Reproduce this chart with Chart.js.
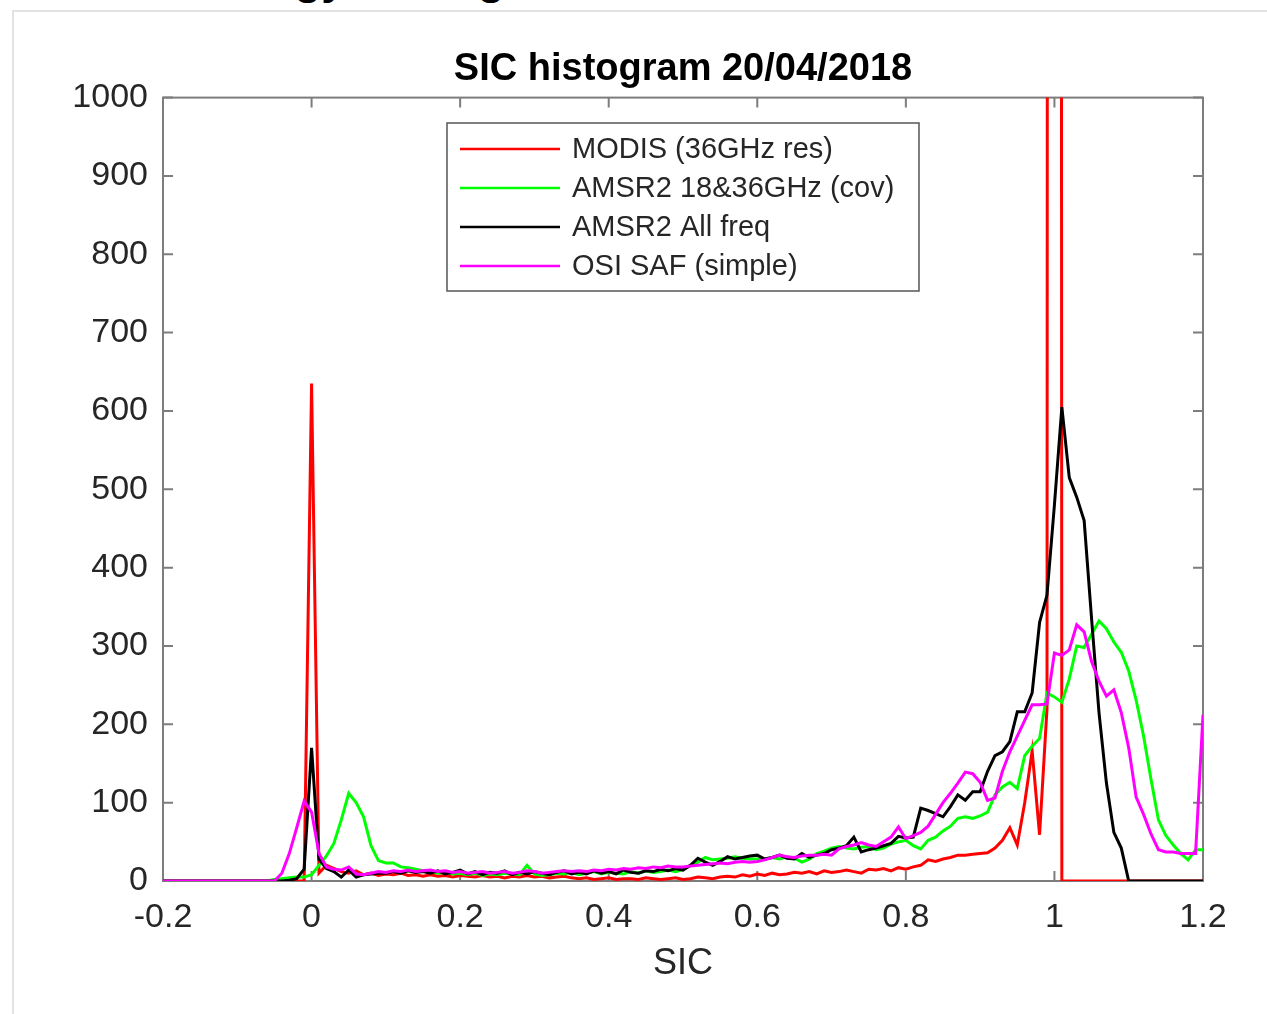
<!DOCTYPE html>
<html><head><meta charset="utf-8">
<script src="https://cdn.jsdelivr.net/npm/chart.js@4/dist/chart.umd.min.js"></script>
<style>
html,body{margin:0;padding:0;background:#fff;overflow:hidden;}
#wrap{position:relative;width:1267px;height:1014px;overflow:hidden;}
#frame{position:absolute;left:12px;top:10px;width:1300px;height:1100px;border-top:2px solid #e2e2e2;border-left:2px solid #e2e2e2;}
#slideTitle{position:absolute;left:72px;top:-43px;font:bold 44px "Liberation Sans",Arial,sans-serif;line-height:44px;color:#000;white-space:nowrap;}
canvas{position:absolute;left:0;top:0;}
</style></head>
<body><div id="wrap"><div id="slideTitle">Methodology: histograms</div><div id="frame"></div><canvas id="c" width="1267" height="1014"></canvas></div>
<script>
// SIC bin centres (x categories)
const sicBins = [-0.2,-0.19,-0.18,-0.17,-0.16,-0.15,-0.14,-0.13,-0.12,-0.11,-0.1,-0.09,-0.08,-0.07,-0.06,-0.05,-0.04,-0.03,-0.02,-0.01,
0,0.01,0.02,0.03,0.04,0.05,0.06,0.07,0.08,0.09,0.1,0.11,0.12,0.13,0.14,0.15,0.16,0.17,0.18,0.19,
0.2,0.21,0.22,0.23,0.24,0.25,0.26,0.27,0.28,0.29,0.3,0.31,0.32,0.33,0.34,0.35,0.36,0.37,0.38,0.39,
0.4,0.41,0.42,0.43,0.44,0.45,0.46,0.47,0.48,0.49,0.5,0.51,0.52,0.53,0.54,0.55,0.56,0.57,0.58,0.59,
0.6,0.61,0.62,0.63,0.64,0.65,0.66,0.67,0.68,0.69,0.7,0.71,0.72,0.73,0.74,0.75,0.76,0.77,0.78,0.79,
0.8,0.81,0.82,0.83,0.84,0.85,0.86,0.87,0.88,0.89,0.9,0.91,0.92,0.93,0.94,0.95,0.96,0.97,0.98,0.99,
1,1.01,1.02,1.03,1.04,1.05,1.06,1.07,1.08,1.09,1.1,1.11,1.12,1.13,1.14,1.15,1.16,1.17,1.18,1.19,1.2];

const modis = [0,0,0,0,0,0,0,0,0,0,0,0,0,0,0,0,0,0,0,0,
635,10,20,16,12,10,13,8,10,7,9,8,10,7,8,6,8,6,7,5,7,
6,5,7,5,6,4,6,5,7,5,6,4,5,6,4,
3,4,2,3,4,2,3,3,2,4,3,2,3,4,2,3,5,4,3,5,
6,5,8,6,9,7,10,8,9,11,
10,12,9,13,11,12,14,12,10,15,
14,16,13,17,15,18,20,
27,25,28,30,33,33,34,35,36,42,52,68,46,100,166,59,220,20000,
0,0,0,0,0,0,0,0,0,0,0,0,0,0,0,0,0,0,0,0];

const amsr18 = [0,0,0,0,0,0,0,0,0,0,0,0,0,0,0,
2,3,4,5,5,
8,20,32,48,78,112,100,82,45,26,23,23,18,17,15,13,12,10,11,9,10,
8,10,7,9,8,10,9,8,20,9,7,8,10,9,11,
8,10,12,9,11,10,9,12,10,13,11,12,14,12,15,
20,24,30,27,28,29,31,29,28,28,
28,30,28,31,29,24,28,35,38,42,
44,42,41,43,44,40,42,47,50,52,
45,41,52,56,64,70,80,82,80,83,
88,110,120,126,118,160,172,182,240,235,
228,258,300,298,315,332,322,305,292,268,
231,185,130,78,58,46,35,27,40,40];

const amsrAll = [0,0,0,0,0,0,0,0,0,0,0,0,0,0,0,0,0,
1,3,15,
170,28,16,12,5,14,5,8,9,10,10,12,10,13,11,12,10,13,9,11,14,
9,12,8,11,10,13,8,11,9,12,10,8,11,13,9,
11,9,13,10,12,9,14,11,10,13,12,15,13,16,14,
20,29,24,20,25,31,28,30,32,33,
28,30,33,29,28,35,30,33,35,40,
42,45,56,37,40,42,45,48,57,55,
56,93,90,86,82,95,110,103,114,114,
140,160,165,178,216,216,240,330,365,480,
605,515,490,460,335,215,125,62,42,0,
0,0,0,0,0,0,0,0,0,0];

const osiSaf = [0,0,0,0,0,0,0,0,0,0,0,0,0,0,0,0,
10,35,68,102,
88,35,18,15,14,18,9,8,10,12,11,13,12,14,12,13,14,12,13,11,12,
10,11,12,10,11,12,10,11,13,12,10,11,12,13,12,
13,12,14,13,15,14,16,15,17,16,18,17,19,18,18,
19,20,21,22,23,22,24,25,24,25,
27,30,33,31,30,32,33,33,34,33,
41,44,46,49,46,44,50,56,69,54,
58,62,70,85,100,112,125,139,137,126,
103,106,140,165,185,205,225,225,226,291,
288,295,327,318,280,255,236,244,215,170,
107,85,60,40,37,37,35,35,35,212];

const seriesLabels = ['MODIS (36GHz res)', 'AMSR2 18&36GHz (cov)', 'AMSR2 All freq', 'OSI SAF (simple)'];
const seriesValues = [modis, amsr18, amsrAll, osiSaf];
const seriesColors = ['#ff0000', '#00ff00', '#000000', '#ff00ff'];
const xTicks = [-0.2, 0, 0.2, 0.4, 0.6, 0.8, 1, 1.2];
const yTicks = [0, 100, 200, 300, 400, 500, 600, 700, 800, 900, 1000];

const FONT = '"Liberation Sans", Arial, Helvetica, sans-serif';

const datasets = seriesValues.map((vals, k) => ({
  label: seriesLabels[k],
  data: sicBins.map((x, i) => ({x: x, y: vals[i]})),
  borderColor: seriesColors[k],
  backgroundColor: seriesColors[k],
  borderWidth: 3,
  pointRadius: 0,
  tension: 0,
  fill: false,
  order: seriesValues.length - k
}));

const boxPlugin = {
  id: 'boxPlugin',
  beforeDatasetsDraw(chart) {
    const {ctx, chartArea: a, scales} = chart;
    ctx.save();
    ctx.strokeStyle = '#7d7d7d';
    ctx.lineWidth = 2;
    ctx.strokeRect(a.left, a.top, a.right - a.left, a.bottom - a.top);
    ctx.beginPath();
    const tl = 10;
    xTicks.forEach(v => {
      const p = scales.x.getPixelForValue(v);
      ctx.moveTo(p, a.bottom); ctx.lineTo(p, a.bottom - tl);
      ctx.moveTo(p, a.top); ctx.lineTo(p, a.top + tl);
    });
    yTicks.forEach(v => {
      const p = scales.y.getPixelForValue(v);
      ctx.moveTo(a.left, p); ctx.lineTo(a.left + tl, p);
      ctx.moveTo(a.right, p); ctx.lineTo(a.right - tl, p);
    });
    ctx.stroke();
    ctx.restore();
  }
};

const legendPlugin = {
  id: 'legendPlugin',
  afterDatasetsDraw(chart) {
    const ctx = chart.ctx;
    const bx = 447, by = 123, bw = 472, bh = 168;
    ctx.save();
    ctx.fillStyle = '#ffffff';
    ctx.fillRect(bx, by, bw, bh);
    ctx.strokeStyle = '#555555';
    ctx.lineWidth = 1.5;
    ctx.strokeRect(bx, by, bw, bh);
    ctx.font = '29px ' + FONT;
    ctx.textBaseline = 'middle';
    ctx.textAlign = 'left';
    chart.data.datasets.forEach((ds, i) => {
      const y = by + 26 + i * 39;
      ctx.strokeStyle = ds.borderColor;
      ctx.lineWidth = 2.5;
      ctx.beginPath();
      ctx.moveTo(bx + 13, y); ctx.lineTo(bx + 113, y);
      ctx.stroke();
      ctx.fillStyle = '#262626';
      ctx.fillText(ds.label, bx + 125, y + 1);
    });
    ctx.restore();
  }
};

new Chart(document.getElementById('c'), {
  type: 'line',
  data: {datasets: datasets},
  options: {
    responsive: false,
    animation: false,
    devicePixelRatio: 1,
    layout: {padding: {left: 0, right: 64, top: 0, bottom: 0}},
    plugins: {
      legend: {display: false},
      tooltip: {enabled: false},
      title: {
        display: true,
        fullSize: false,
        text: 'SIC histogram 20/04/2018',
        color: '#000000',
        font: {family: FONT, size: 38, weight: 'bold'},
        padding: {top: 47, bottom: 5}
      }
    },
    scales: {
      x: {
        type: 'linear',
        min: -0.2, max: 1.2,
        afterFit: s => { s.height = 133; },
        afterBuildTicks: s => { s.ticks = xTicks.map(v => ({value: v})); },
        grid: {display: false, drawTicks: false},
        border: {display: false},
        ticks: {
          color: '#262626',
          font: {family: FONT, size: 34},
          padding: 16,
          maxRotation: 0,
          autoSkip: false,
          callback: v => String(Number(v.toFixed(1)))
        },
        title: {
          display: true,
          text: 'SIC',
          color: '#262626',
          font: {family: FONT, size: 36},
          padding: {top: 0, bottom: 28}
        }
      },
      y: {
        type: 'linear',
        min: 0, max: 1000,
        afterFit: s => { s.width = 163; },
        afterBuildTicks: s => { s.ticks = yTicks.map(v => ({value: v})); },
        grid: {display: false, drawTicks: false},
        border: {display: false},
        ticks: {
          color: '#262626',
          font: {family: FONT, size: 34},
          padding: 15,
          autoSkip: false,
          callback: v => String(v)
        }
      }
    }
  },
  plugins: [boxPlugin, legendPlugin]
});
</script>
</body></html>
